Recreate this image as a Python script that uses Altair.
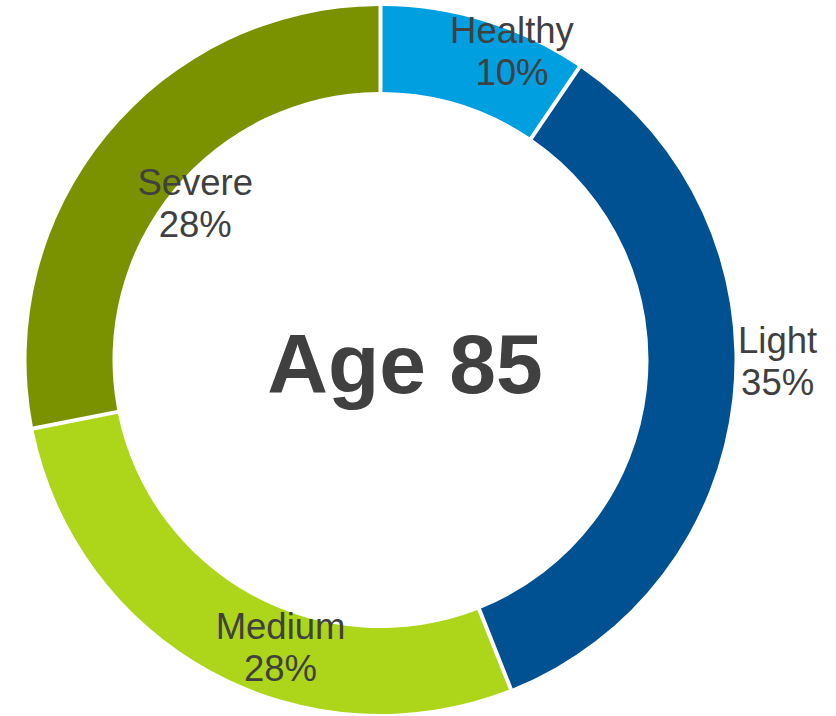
import altair as alt
import pandas as pd

# ---- data ----
categories = ["Healthy", "Light", "Medium", "Severe"]
shares = [9.5, 34.5, 27.9, 28.1]          # angular share of the ring (%)
pct_labels = ["10%", "35%", "28%", "28%"]  # printed labels
colors = ["#009FDF", "#005191", "#ADD61A", "#7A9100"]
center_title = "Age 85"

df = pd.DataFrame({
    "idx": list(range(len(categories))),
    "category": categories,
    "value": shares,
    "label": [f"{c}\n{p}" for c, p in zip(categories, pct_labels)],
})

W, H = 836, 716
CX, CY = 380.5, 360
R_OUT, R_IN = 354, 268
R_LABEL = (R_OUT + R_IN) / 2
TEXT_COLOR = "#404040"
FONT = "Liberation Sans"

# per-label nudges (pixels) relative to the middle of each segment
label_nudge = {
    "Healthy": (40, -20),
    "Light": (88, -41),
    "Medium": (49, 6),
    "Severe": (55, 32),
}

color_scale = alt.Scale(domain=categories, range=colors)

base = alt.Chart(df)

ring = base.mark_arc(
    outerRadius=R_OUT, innerRadius=R_IN, padAngle=0.009
).encode(
    theta=alt.Theta("value:Q", stack=True),
    order=alt.Order("idx:Q"),
    color=alt.Color("category:N", scale=color_scale, legend=None),
    x=alt.value(CX),
    y=alt.value(CY),
)

label_base = base.transform_window(
    cum="sum(value)", sort=[alt.SortField("idx")]
).transform_calculate(
    mid="datum.cum - datum.value / 2"
)

label_layers = []
for cat in categories:
    ddx, ddy = label_nudge[cat]
    label_layers.append(
        label_base.transform_filter(alt.datum.category == cat).mark_text(
            radius=R_LABEL, dx=ddx, dy=ddy, align="center", baseline="alphabetic",
            font=FONT, fontSize=36.5, lineHeight=42, lineBreak="\n", color=TEXT_COLOR,
        ).encode(
            theta=alt.Theta("mid:Q", stack=False),
            text=alt.Text("label:N"),
            x=alt.value(CX),
            y=alt.value(CY),
        )
    )

center = alt.Chart(pd.DataFrame({"t": [center_title]})).mark_text(
    align="center", baseline="alphabetic", dx=24.5, dy=33,
    font=FONT, fontSize=84, fontWeight="bold", color=TEXT_COLOR,
).encode(
    text=alt.Text("t:N"),
    x=alt.value(CX),
    y=alt.value(CY),
)

chart = alt.layer(ring, *label_layers, center).properties(
    width=W, height=H,
    autosize=alt.AutoSizeParams(type="none"),
    padding=0,
    background="white",
).configure_view(stroke=None)

chart.save("out.html", embed_options={"renderer": "svg", "actions": False})
